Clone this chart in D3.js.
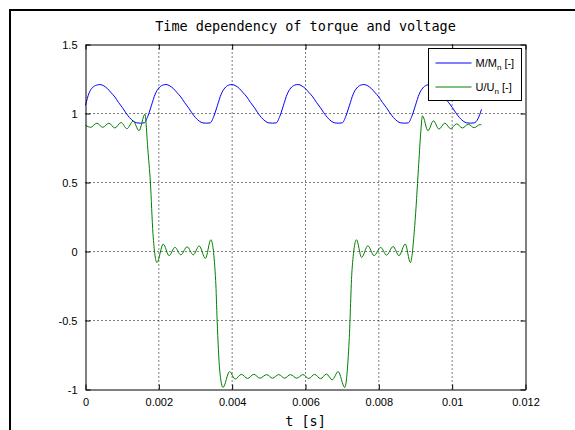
<!DOCTYPE html>
<html>
<head>
<meta charset="utf-8">
<script src="https://cdn.jsdelivr.net/npm/d3@7"></script>
<style>
    body { margin: 0; background: #fff; }
    svg { display: block; }
</style>
</head>
<body>
<div id="my_dataviz"></div>
<script>
// tick values and labels
let xTicks = [0, 0.002, 0.004, 0.006, 0.008, 0.01, 0.012];
let xTickLabels = ["0", "0.002", "0.004", "0.006", "0.008", "0.01", "0.012"];
let yTicks = [-1, -0.5, 0, 0.5, 1, 1.5];
let yTickLabels = ["-1", "-0.5", "0", "0.5", "1", "1.5"];

// M/Mn sampled every 0.1 ms, t = 0 .. 0.0108 s
let torqueStep = 0.0001;
let torque = [
    1.06, 1.15, 1.19, 1.205, 1.21, 1.20, 1.18, 1.15, 1.12, 1.08,
    1.045, 1.005, 0.97, 0.945, 0.932, 0.93, 0.932, 0.98, 1.06, 1.14,
    1.185, 1.205, 1.21, 1.20, 1.18, 1.15, 1.12, 1.08, 1.045, 1.005,
    0.97, 0.945, 0.932, 0.93, 0.932, 0.98, 1.06, 1.14, 1.185, 1.205,
    1.21, 1.20, 1.18, 1.15, 1.12, 1.08, 1.045, 1.005, 0.97, 0.945,
    0.932, 0.93, 0.932, 0.98, 1.06, 1.14, 1.185, 1.205, 1.21, 1.20,
    1.18, 1.15, 1.12, 1.08, 1.045, 1.005, 0.97, 0.945, 0.932, 0.93,
    0.932, 0.98, 1.06, 1.14, 1.185, 1.205, 1.21, 1.20, 1.18, 1.15,
    1.12, 1.08, 1.045, 1.005, 0.97, 0.945, 0.932, 0.93, 0.932, 0.98,
    1.06, 1.14, 1.185, 1.205, 1.21, 1.20, 1.18, 1.15, 1.12, 1.08,
    1.045, 1.005, 0.97, 0.945, 0.932, 0.93, 0.932, 0.96, 1.03
];

// U/Un read at its turning points
let voltageT = [
    0, 0.00014, 0.00031, 0.00047, 0.00064, 0.0008, 0.00097, 0.00113, 0.0013, 0.00146, 0.00162,
    0.0017, 0.00177, 0.00184, 0.00195,
    0.00212, 0.00228, 0.00244, 0.0026, 0.00277, 0.00294, 0.0031, 0.00327, 0.00342,
    0.00355, 0.00359, 0.00366, 0.00375,
    0.00393, 0.00408, 0.00425, 0.00442, 0.00459, 0.00476, 0.00494, 0.0051, 0.00527, 0.00543,
    0.00559, 0.00576, 0.00593, 0.00609, 0.00625, 0.00641, 0.00657, 0.00673, 0.00689, 0.00707,
    0.00719, 0.00727, 0.00739,
    0.00753, 0.0077, 0.00787, 0.00805, 0.00821, 0.00839, 0.00855, 0.00872, 0.00886,
    0.00898, 0.00908, 0.00914, 0.00919,
    0.00934, 0.00949, 0.00964, 0.0098, 0.00996, 0.01012, 0.01028, 0.01044, 0.0106, 0.01076, 0.0108
];
let voltage = [
    0.915, 0.90, 0.93, 0.90, 0.93, 0.895, 0.935, 0.89, 0.945, 0.875, 0.995,
    0.74, 0.5, 0.13, -0.08,
    0.054, -0.03, 0.03, -0.024, 0.034, -0.024, 0.04, -0.05, 0.085,
    -0.21, -0.5, -0.86, -0.985,
    -0.87, -0.925, -0.89, -0.92, -0.89, -0.918, -0.892, -0.918, -0.892, -0.918,
    -0.892, -0.918, -0.892, -0.92, -0.89, -0.922, -0.888, -0.93, -0.87, -0.985,
    -0.65, -0.13, 0.085,
    -0.043, 0.041, -0.03, 0.03, -0.026, 0.036, -0.03, 0.054, -0.08,
    0.19, 0.6, 0.85, 0.983,
    0.875, 0.947, 0.887, 0.93, 0.89, 0.925, 0.895, 0.922, 0.897, 0.92, 0.917
];

let seriesNames = ["M/M", "U/U"];
let seriesColors = ["#0000ff", "#008000"];

let margin = {top: 44, right: 50, bottom: 41, left: 85.5},
    width = 440,
    height = 345;

let svg = d3.select("#my_dataviz")
    .append("svg")
    .attr("width", 575)
    .attr("height", 430);

// figure frame (cut at right and bottom)
svg.append("rect")
    .attr("x", 10).attr("y", 10)
    .attr("width", 600).attr("height", 450)
    .attr("fill", "none")
    .attr("stroke", "#000")
    .attr("stroke-width", 2);

let g = svg.append("g")
    .attr("transform", "translate(" + margin.left + "," + (margin.top + 0.5) + ")");

let x = d3.scaleLinear().domain([0, 0.012]).range([0, width]);
let y = d3.scaleLinear().domain([-1, 1.5]).range([height, 0]);

// dotted grid
g.append("g").selectAll("line")
    .data(xTicks.slice(1, -1))
    .enter().append("line")
    .attr("x1", d => x(d)).attr("x2", d => x(d))
    .attr("y1", 0).attr("y2", height)
    .attr("stroke", "#000")
    .attr("stroke-dasharray", "1,3");
g.append("g").selectAll("line")
    .data(yTicks.slice(1, -1))
    .enter().append("line")
    .attr("x1", 0).attr("x2", width)
    .attr("y1", d => y(d)).attr("y2", d => y(d))
    .attr("stroke", "#000")
    .attr("stroke-dasharray", "1,3");

// lines
let torqueData = torque.map((v, i) => ({t: i * torqueStep, v: v}));
let voltageData = voltageT.map((t, i) => ({t: t, v: voltage[i]}));

let line = d3.line()
    .x(d => x(d.t))
    .y(d => y(d.v))
    .curve(d3.curveMonotoneX);

g.append("path")
    .datum(torqueData)
    .attr("d", line)
    .attr("fill", "none")
    .attr("stroke", seriesColors[0])
    .attr("stroke-width", 1);

g.append("path")
    .datum(voltageData)
    .attr("d", line)
    .attr("fill", "none")
    .attr("stroke", seriesColors[1])
    .attr("stroke-width", 1);

// axes with inward ticks
function styleAxis(sel) {
    sel.selectAll(".domain").attr("stroke", "#000");
    sel.selectAll(".tick line").attr("stroke", "#000");
    sel.selectAll("text")
        .style("font-family", "'Liberation Sans', Arial, sans-serif")
        .style("font-size", "11px")
        .attr("fill", "#000");
}

g.append("g")
    .attr("transform", "translate(0," + height + ")")
    .call(d3.axisBottom(x).tickValues(xTicks)
        .tickFormat((d, i) => xTickLabels[i])
        .tickSize(-5).tickSizeOuter(0).tickPadding(9))
    .call(styleAxis);

g.append("g")
    .call(d3.axisLeft(y).tickValues(yTicks)
        .tickFormat((d, i) => yTickLabels[i])
        .tickSize(-5).tickSizeOuter(0).tickPadding(8))
    .call(styleAxis);

g.append("g")
    .call(d3.axisTop(x).tickValues(xTicks).tickFormat("")
        .tickSize(-5).tickSizeOuter(0))
    .call(styleAxis);

g.append("g")
    .attr("transform", "translate(" + width + ",0)")
    .call(d3.axisRight(y).tickValues(yTicks).tickFormat("")
        .tickSize(-5).tickSizeOuter(0))
    .call(styleAxis);

// title and x label
svg.append("text")
    .attr("x", margin.left + width / 2)
    .attr("y", 31)
    .attr("text-anchor", "middle")
    .style("font-family", "'DejaVu Sans Mono', monospace")
    .style("font-size", "13.5px")
    .text("Time dependency of torque and voltage");

svg.append("text")
    .attr("x", margin.left + width / 2)
    .attr("y", 426)
    .attr("text-anchor", "middle")
    .style("font-family", "'DejaVu Sans Mono', monospace")
    .style("font-size", "13.5px")
    .text("t [s]");

// legend
let legend = svg.append("g").attr("transform", "translate(428.5,48.5)");
legend.append("rect")
    .attr("width", 93).attr("height", 52)
    .attr("fill", "#fff")
    .attr("stroke", "#000");

seriesNames.forEach(function (name, i) {
    let ly = 14.5 + i * 24;
    legend.append("line")
        .attr("x1", 7).attr("x2", 43)
        .attr("y1", ly).attr("y2", ly)
        .attr("stroke", seriesColors[i]);
    let txt = legend.append("text")
        .attr("x", 47).attr("y", ly + 4)
        .style("font-family", "'Liberation Sans', Arial, sans-serif")
        .style("font-size", "11px");
    txt.append("tspan").text(name);
    txt.append("tspan").attr("dy", 3).style("font-size", "8px").text("n");
    txt.append("tspan").attr("dy", -3).text(" [-]");
});
</script>
</body>
</html>
